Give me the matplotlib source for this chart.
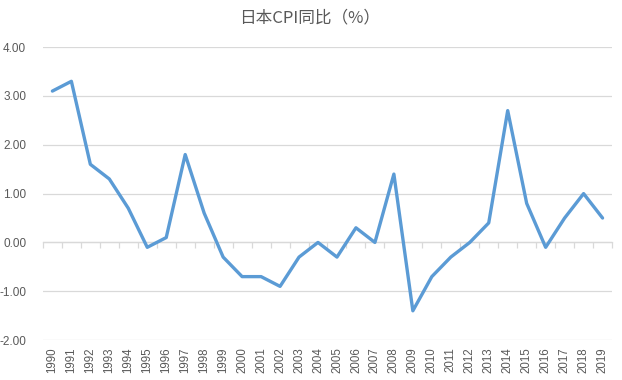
import matplotlib
matplotlib.use("Agg")
from matplotlib import pyplot as plt

years = [str(y) for y in range(1990, 2020)]
cpi_yoy = [3.1, 3.3, 1.6, 1.3, 0.7, -0.1, 0.1, 1.8, 0.6, -0.3,
           -0.7, -0.7, -0.9, -0.3, 0.0, -0.3, 0.3, 0.0, 1.4, -1.4,
           -0.7, -0.3, 0.0, 0.4, 2.7, 0.8, -0.1, 0.5, 1.0, 0.5]
y_ticks = [-2, -1, 0, 1, 2, 3, 4]

plt.rcParams["font.family"] = ["Noto Sans CJK SC", "DejaVu Sans"]
text_color = "#595959"
grid_color = "#D9D9D9"

fig = plt.figure(figsize=(6.22, 3.8), dpi=100)
ax = fig.add_axes([0.069, 0.105, 0.915, 0.771])

x = list(range(len(years)))
ax.plot(x, cpi_yoy, color="#5B9BD5", linewidth=2.4, solid_joinstyle="round",
        solid_capstyle="round")

ax.set_ylim(-2, 4)
ax.set_xlim(-0.5, len(years) - 0.5)
ax.set_yticks(y_ticks)
ax.set_yticklabels(["%.2f" % v for v in y_ticks], fontsize=8.5, color=text_color,
                   family=["Liberation Sans", "DejaVu Sans"])
ax.set_xticks(x)
ax.set_xticklabels(years, rotation=90, fontsize=8.3, color=text_color,
                   family=["Liberation Sans", "DejaVu Sans"])
ax.tick_params(axis="both", length=0)
ax.tick_params(axis="y", pad=12)
ax.tick_params(axis="x", pad=5)
ax.grid(axis="y", color=grid_color, linewidth=0.9)
ax.set_axisbelow(True)
for s in ax.spines.values():
    s.set_visible(False)

# category axis line sits at y=0 with ticks between categories
zero_frac = (0 - (-2)) / 6
sec = ax.secondary_xaxis(zero_frac)
sec.set_xticks([i - 0.5 for i in range(len(years) + 1)])
sec.set_xticklabels([])
sec.tick_params(axis="x", direction="out", length=4, color=grid_color, width=0.9)
sec.xaxis.set_ticks_position("bottom")
sec.spines["bottom"].set_color(grid_color)
sec.spines["bottom"].set_linewidth(0.9)
sec.spines["top"].set_visible(False)

fig.text(0.497, 0.952, "日本CPI同比（%）", ha="center", va="center",
         fontsize=12, color=text_color)

fig.savefig("out.png", dpi=100)
